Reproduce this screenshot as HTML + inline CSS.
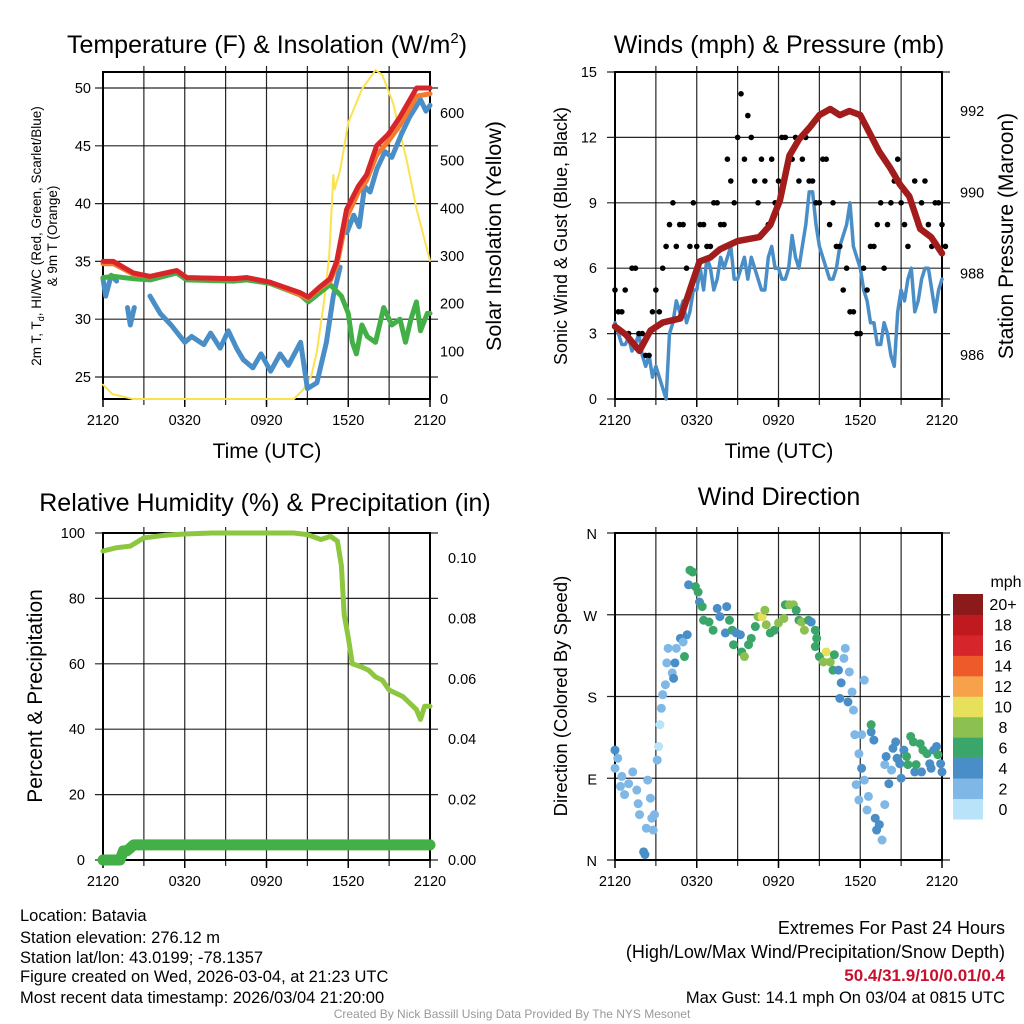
<!DOCTYPE html>
<html><head><meta charset="utf-8"><style>
body{margin:0;background:#fff}
svg{display:block;font-family:"Liberation Sans",sans-serif}
</style></head><body>
<svg id="s" width="1024" height="1024" viewBox="0 0 1024 1024" xmlns="http://www.w3.org/2000/svg">
<rect width="1024" height="1024" fill="#fff"/>
<g id="g"></g>
<g font-size="16.5" fill="#000">
<text x="20" y="921">Location: Batavia</text>
<text x="20" y="943">Station elevation: 276.12 m</text>
<text x="20" y="963">Station lat/lon: 43.0199; -78.1357</text>
<text x="20" y="982">Figure created on Wed, 2026-03-04, at 21:23 UTC</text>
<text x="20" y="1003">Most recent data timestamp: 2026/03/04 21:20:00</text>
</g>
<g font-size="18" text-anchor="end">
<text x="1005" y="934">Extremes For Past 24 Hours</text>
<text x="1005" y="958">(High/Low/Max Wind/Precipitation/Snow Depth)</text>
<text x="1005" y="981" fill="#c8102e" font-weight="bold" font-size="17">50.4/31.9/10/0.01/0.4</text>
<text x="1005" y="1003" font-size="16.5">Max Gust: 14.1 mph On 03/04 at 0815 UTC</text>
</g>
<text x="512" y="1018" font-size="12" fill="#999" text-anchor="middle">Created By Nick Bassill Using Data Provided By The NYS Mesonet</text>
</svg>
<script>
// ---- data ----
const tempT=[0,0.76,2.23,3.45,5.41,6.14,9.57,10.55,12.26,14.46,15.07,15.93,16.66,17.15,17.88,18.74,19.35,20.08,20.94,21.8,23.02,24];
const tempV=[35,35,34,33.7,34.2,33.6,33.5,33.6,33.2,32.3,31.9,32.8,33.5,35,39.5,41.5,42.5,45,46,47.5,50,50];
const t9mV=[34.8,34.8,33.9,33.7,34.2,33.6,33.5,33.6,33.2,32.1,31.8,32.7,33.3,34.6,38.8,41,42,44.2,45.4,46.8,49.3,49.5];
const dewT=[0,0.76,2.23,3.45,5.41,6.14,9.57,10.55,12.26,14.46,15.07,16.66,17.5,18,18.3,18.6,19.0,19.4,20,20.6,21.2,21.8,22.2,22.6,23,23.3,23.8,24];
const dewV=[33.6,33.7,33.5,33.4,34,33.4,33.3,33.4,33.1,32.1,31.5,33,32,30.5,28,27,29.5,28.5,28,31,29.5,30,28,30,31.5,29,30.5,30.5];
const wcT=[0,0.2,0.6,1.0,1.3,1.8,2.0,2.3,2.6,3.45,4.2,5,6,6.5,7.4,7.9,8.6,9.2,9.8,10.3,11,11.6,12.3,13,13.6,14.5,15,15.7,16.4,16.9,17.4,17.7,17.9,18.4,18.8,19.2,19.6,20.1,20.7,21.2,21.9,22.5,23.3,23.7,24];
const wcV=[33.5,32,33.8,33.3,null,31,29.5,31,null,32,30.5,29.5,28,28.5,27.8,28.8,27.5,29,27.5,26.5,25.8,27,25.5,27,26,28,24,24.5,28,32,34.5,null,37.5,39,38,41.5,41,43,44.5,44,46,47.5,49,48,48.5];
const solT=[0,0.7,1.5,2.2,14.0,14.7,15.3,15.7,16.2,16.6,16.9,17.0,17.4,18,19,20,20.5,21.3,22.3,23,24];
const solV=[30,10,5,0,0,20,50,100,200,300,470,440,480,580,650,690,680,620,500,400,290];
const presT=[0,0.8,1.8,2.6,3.5,4.8,5.5,6.2,7.0,7.7,9,10.6,11.4,12.1,12.8,13.5,14.3,15.0,15.8,16.5,17.2,18,19.4,20.2,20.9,21.6,22.4,23.2,24];
const presV=[986.7,986.5,986.1,986.6,986.8,986.9,987.6,988.3,988.4,988.6,988.8,988.9,989.2,989.8,990.9,991.3,991.6,991.9,992.05,991.9,992,991.9,991,990.6,990.2,989.9,989.1,988.9,988.5];
const windV=[3.5,3,2.5,2.5,2.8,2.2,2.5,3,2,1.5,2,1,1.5,1,0.5,0,3,3.5,4.5,4,4.5,3.5,4,5,5,6,5,6.5,6,5,5.5,6.5,6,6.5,7,5.5,5.5,6,6.5,5.5,6.5,6,5.5,5,5,6.5,7,6,6,5.5,5.5,6,7.5,6.5,6,7,8,9.5,9.5,8,7,6.5,6,5.5,5.5,6,7,7.5,8,9,7,6.5,6,5,4.5,3.5,3.5,2.5,2.5,3.5,3,2,1.5,4,5,4.5,5.5,6,4,4.5,5.5,6,6,5,4,5,5.5];
const gustA=[5,4,3,6,3,2,5,6,8,7,8,7,7,8,7,9,8,10,12,11,12,9,10,11,10,12,11,10,12,10,9,11,9,7,6,4,3,5,7,9,8,10,9,7,10,9,8,9,8];
const gustB=[4,5,6,3,2,4,4,7,9,8,6,9,8,7,9,8,11,9,14,13,10,11,8,9,12,11,12,11,10,9,11,8,7,5,4,3,6,7,8,6,9,11,8,9,8,10,7,9,7];
const rhT=[0,1,2,3,4.5,6,8,14,15,16,16.7,17.2,17.5,17.7,18,18.3,19,19.5,20,20.5,21,21.5,22,22.5,23,23.3,23.6,24];
const rhV=[94.5,95.5,96,98.5,99.3,99.7,100,100,99.5,98,99,97.5,90,75,68,60,59,58,56,55,52,51,50,48,46,43,47,47];
const prT=[0,0.25,0.5,0.75,1,1.25,1.5,1.75,2,2.25,2.5,3,4,5,6,7,8,9,10,11,12,13,14,15,16,17,18,19,20,21,22,23,24];
const prV=[0,0,0,0,0,0,0.003,0.003,0.004,0.005,0.005,0.005,0.005,0.005,0.005,0.005,0.005,0.005,0.005,0.005,0.005,0.005,0.005,0.005,0.005,0.005,0.005,0.005,0.005,0.005,0.005,0.005,0.005];
const wdT=[0,0,0.2,0.5,0.4,0.7,1.0,1.3,1.6,1.7,1.8,2.1,2.2,2.3,2.4,2.6,2.7,2.8,2.9,3.1,3.2,3.3,3.4,3.5,3.7,3.8,3.9,4.2,4.3,4.4,4.5,4.8,5.0,5.1,5.3,5.4,5.5,5.7,5.9,6.1,6.2,6.4,6.5,6.9,7.2,7.5,7.7,8.1,8.2,8.4,8.6,8.7,8.9,9.2,9.3,9.5,9.8,10.0,10.3,10.5,10.8,11.0,11.1,11.4,11.7,12.0,12.4,12.5,12.8,13.1,13.3,13.5,13.7,13.9,14.2,14.4,14.7,14.8,14.7,15.0,15.3,15.5,15.8,16.0,16.1,16.4,16.6,16.5,16.9,16.8,17.1,17.2,17.4,17.5,17.6,17.9,18.1,17.7,17.9,18.1,18.3,18.3,18.5,18.6,18.8,18.8,19.0,19.1,19.2,19.4,19.6,19.8,19.8,19.9,20.1,20.3,20.4,20.6,20.7,20.9,21.0,21.2,21.4,21.5,21.7,21.9,22.0,22.1,22.4,22.5,22.6,22.9,23.1,23.2,23.4,23.6,23.7,23.9,24.0];
const wdDir=[121,101,112,92,81,72,84,97,77,62,50,9,6,35,88,68,46,33,50,110,125,149,167,182,193,217,233,206,200,217,233,244,240,224,248,303,319,317,301,295,284,279,264,262,253,277,268,250,279,264,253,237,250,248,229,224,237,244,257,268,268,275,259,250,253,261,266,281,281,281,275,264,262,253,264,262,253,244,235,224,218,229,218,209,226,209,195,178,233,222,174,207,185,165,138,117,101,83,66,138,198,88,55,70,141,149,132,46,33,39,22,61,105,114,84,99,123,130,112,106,90,121,114,105,136,130,97,105,128,97,121,117,106,101,121,125,116,106,97];
const wdSpd=[3,2,2,2,2,1,2,2,2,2,2,4,4,2,1,2,2,2,1,1,0,0,1,2,2,2,2,2,4,4,2,4,2,6,4,4,6,6,6,6,4,6,6,6,6,4,4,4,4,6,6,6,4,4,6,8,6,6,6,8,10,8,8,6,6,8,8,6,8,8,6,6,8,8,6,4,6,6,6,6,8,10,8,6,6,4,4,4,2,2,4,2,2,2,2,2,4,2,2,2,2,2,2,2,4,6,4,4,4,4,2,2,2,4,4,2,4,4,4,4,4,4,6,6,6,6,4,6,6,4,6,6,4,4,4,4,6,4,4];
const spdColors=["#b9e3f8","#7fb8e6","#4a8ec8","#3aa66a","#8cc152","#e6e05a","#f7a24a","#ee5a2a","#d7262b","#c0191f","#8b1a1a"];
const spdLabels=["0","2","4","6","8","10","12","14","16","18","20+"];
const timeLabels=["2120","0320","0920","1520","2120"];
const tempTicks=[25,30,35,40,45,50];
const solTicks=[0,100,200,300,400,500,600];
const windTicks=[0,3,6,9,12,15];
const presTicks=[986,988,990,992];
const rhTicks=[0,20,40,60,80,100];
const prTicks=[0,0.02,0.04,0.06,0.08,0.10];
const dirTicks=[0,90,180,270,360];
const dirLabels=["N","E","S","W","N"];

// ---- helpers ----
const NS="http://www.w3.org/2000/svg";
const G=document.getElementById('g');
function el(tag,at,parent){const e=document.createElementNS(NS,tag);for(const k in at)e.setAttribute(k,at[k]);(parent||G).appendChild(e);return e;}
function lin(d0,d1,r0,r1){return v=>r0+(v-d0)*(r1-r0)/(d1-d0);}
function pathD(ts,vs,xf,yf){let d="",pen=false;for(let i=0;i<ts.length;i++){if(vs[i]===null||vs[i]===undefined){pen=false;continue;}d+=(pen?"L":"M")+xf(ts[i]).toFixed(1)+","+yf(vs[i]).toFixed(1);pen=true;}return d;}
function panel(name,L,T,R,B,yTicks,yf){
  const g=el('g',{});
  
  
  const xf=lin(0,24,L,R);
  for(let h=3;h<24;h+=3){const l=el('line',{x1:xf(h),x2:xf(h),y1:T-6,y2:B+6,stroke:'#000','stroke-width':1.2,'stroke-opacity':0.85},g);}
  yTicks.forEach(v=>{const y=yf(v);const l=el('line',{x1:L-8,x2:R+8,y1:y,y2:y,stroke:'#000','stroke-width':1.2,'stroke-opacity':0.85},g);});
  const r=el('rect',{x:L,y:T,width:R-L,height:B-T,fill:'none',stroke:'#000','stroke-width':2},g);
  
  timeLabels.forEach((s,i)=>{const x=xf(i*6);const t=el('text',{x:x,y:B+26,'font-size':14.5,'text-anchor':'middle'},g);t.textContent=s;
    el('line',{x1:x,x2:x,y1:B,y2:B+8,stroke:'#000','stroke-width':1.5},g);});
  return xf;
}
function text(x,y,s,size,name,extra){const t=el('text',Object.assign({x:x,y:y,'font-size':size,'text-anchor':'middle'},extra||{}));t.textContent=s;return t;}
function rtext(x,y,s,size,name,rot){return text(x,y,s,size,name,{transform:`rotate(${rot} ${x} ${y})`});}
function line(ts,vs,xf,yf,col,w,name){const p=el('path',{d:pathD(ts,vs,xf,yf),fill:'none',stroke:col,'stroke-width':w,'stroke-linejoin':'round','stroke-linecap':'round'});return p;}
function yTickLabels(vals,yf,x,anchor,fmt){vals.forEach(v=>{const t=el('text',{x:x,y:yf(v)+5,'font-size':14.5,'text-anchor':anchor});t.textContent=fmt?fmt(v):v;});}

// ---- panel 1 ----
{const L=103,T=72,R=430,B=399;
 const yf=lin(25,50,377,88), ys=lin(0,600,399,113);
 const xf=panel('temperature-panel',L,T,R,B,tempTicks,yf);
 yTickLabels(tempTicks,yf,L-12,'end');
 yTickLabels(solTicks,ys,R+10,'start');
 line(solT,solV,xf,ys,'#fde24f',2,'insolation-line');
 line(wcT,wcV,xf,yf,'#4a8ec8',5,'windchill-line');
 line(dewT,dewV,xf,yf,'#43b047',5,'dewpoint-line');
 line(tempT,t9mV,xf,yf,'#f47a30',5,'temp-9m-line');
 line(tempT,tempV,xf,yf,'#d7262b',5,'temp-2m-line');
 text(267,53,'Temperature (F) & Insolation (W/m',25,'temperature-title').innerHTML='Temperature (F) &amp; Insolation (W/m<tspan font-size="15" dy="-10">2</tspan><tspan dy="10">)</tspan>';
 text(267,458,'Time (UTC)',21,'x-axis-title');
 rtext(41,236,'2m T, T',13.5,'y-axis-title-left',-90).innerHTML='2m T, T<tspan font-size="9" dy="3">d</tspan><tspan dy="-3">, HI/WC (Red, Green, Scarlet/Blue)</tspan>';
 rtext(57,236,'& 9m T (Orange)',13.5,'y-axis-title-left-2',-90);
 rtext(501,236,'Solar Insolation (Yellow)',21.5,'y-axis-title-right',-90);
}
// ---- panel 2 ----
{const L=615,T=72,R=942,B=399;
 const yf=lin(0,15,399,72), yp=lin(986,992,355,111);
 const xf=panel('wind-panel',L,T,R,B,windTicks,yf);
 yTickLabels(windTicks,yf,L-18,'end');
 yTickLabels(presTicks,yp,R+18,'start');
 const wt=windV.map((v,i)=>i*24/(windV.length-1));
 line(wt,windV,xf,yf,'#4a8ec8',3.5,'sonic-wind-line');
 gustA.forEach((v,i)=>{const c=el('circle',{cx:xf(i*0.5),cy:yf(v),r:2.8,fill:'#000'});});
 gustB.forEach((v,i)=>{const c=el('circle',{cx:xf(i*0.5+0.25),cy:yf(v),r:2.8,fill:'#000'});});
 line(presT,presV,xf,yp,'#a31c1c',6.5,'pressure-line');
 text(779,53,'Winds (mph) & Pressure (mb)',25,'wind-title');
 text(779,458,'Time (UTC)',21,'x-axis-title-2');
 rtext(567,236,'Sonic Wind & Gust (Blue, Black)',18,'y-axis-title-wind',-90);
 rtext(1013,236,'Station Pressure (Maroon)',21,'y-axis-title-pressure',-90);
}
// ---- panel 3 ----
{const L=103,T=533,R=430,B=860;
 const yf=lin(0,100,860,533), yp=lin(0,0.1,860,558);
 const xf=panel('humidity-panel',L,T,R,B,rhTicks,yf);
 yTickLabels(rhTicks,yf,L-18,'end');
 yTickLabels(prTicks,yp,R+18,'start',v=>v.toFixed(2));
 line(rhT,rhV,xf,yf,'#8dc63f',5,'humidity-line');
 line(prT,prV,xf,yp,'#43b047',11,'precip-line');
 text(265,511,'Relative Humidity (%) & Precipitation (in)',25,'humidity-title');
 rtext(42,696,'Percent & Precipitation',21,'y-axis-title-rh',-90);
}
// ---- panel 4 ----
{const L=615,T=533,R=942,B=860;
 const yf=lin(0,360,860,533);
 const xf=panel('direction-panel',L,T,R,B,dirTicks,yf);
 dirTicks.forEach((v,i)=>{const t=el('text',{x:L-18,y:yf(v)+6,'font-size':14.5,'text-anchor':'end'});t.textContent=dirLabels[i];});
 wdT.forEach((h,i)=>{const ci=Math.min(10,Math.round(wdSpd[i]/2));const c=el('circle',{cx:xf(h),cy:yf(wdDir[i]),r:4.5,fill:spdColors[ci]});});
 text(779,505,'Wind Direction',25,'direction-title');
 rtext(567,696,'Direction (Colored By Speed)',18.5,'y-axis-title-dir',-90);
 const bh=(819-594)/11;
 spdColors.forEach((c,i)=>{const y=819-(i+1)*bh;const r=el('rect',{x:953,y:y,width:30,height:bh+0.5,fill:c});
   const t=el('text',{x:1003,y:y+bh/2+6,'font-size':16,'text-anchor':'middle'});t.textContent=spdLabels[i];});
 text(1006,587,'mph',16,'colorbar-title');
}
</script>
</body></html>
